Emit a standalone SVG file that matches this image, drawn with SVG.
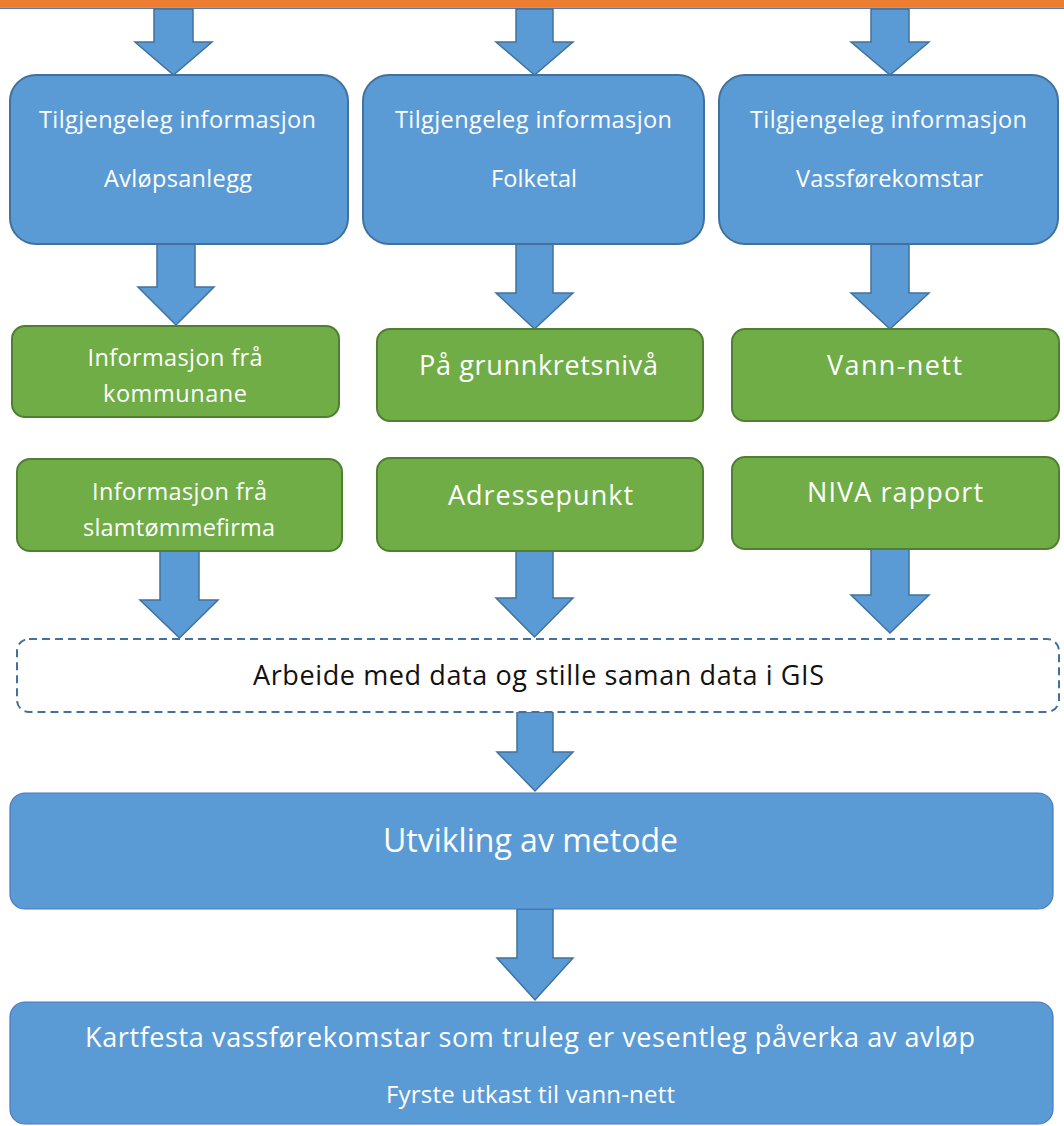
<svg xmlns="http://www.w3.org/2000/svg" width="1064" height="1126" viewBox="0 0 1064 1126">
  <style>
    .blue { fill: #5b9bd5; stroke: #41719c; stroke-width: 2; }
    .bigblue { fill: #5b9bd5; stroke: #4a78c0; stroke-width: 1.2; }
    .green { fill: #70ad47; stroke: #507e32; stroke-width: 2; }
    .dash { fill: #ffffff; stroke: #41719c; stroke-width: 2; stroke-dasharray: 8 5; }
    .arrow { fill: #5b9bd5; stroke: #41719c; stroke-width: 1.5; stroke-linejoin: miter; }
    text { font-family: "Open Sans", "Liberation Sans", sans-serif; text-anchor: middle; }
    .w { fill: #ffffff; }
    .k { fill: #111111; }
    .t1 { font-size: 24px; }
    .t2 { font-size: 23.5px; }
    .t3 { font-size: 27px; }
  </style>
  <rect x="0" y="0" width="1064" height="1126" fill="#ffffff"/>
  <g id="top-bar">
    <rect x="0" y="0" width="1064" height="7.5" fill="#ed7d31"/>
    <line x1="0" y1="8.2" x2="1064" y2="8.2" stroke="#5a7ea6" stroke-width="1.5"/>
  </g>

  <g id="connectors">
    <path class="arrow" d="M154,9 H193 V42 H212 L173.5,75 L135,42 H154 Z"/>
    <path class="arrow" d="M516,9 H553 V42 H573 L534.5,75 L496,42 H516 Z"/>
    <path class="arrow" d="M871,9 H909 V42 H929 L890,75 L851,42 H871 Z"/>

    <path class="arrow" d="M157,244 H195 V287 H214 L176,325 L138,287 H157 Z"/>
    <path class="arrow" d="M516,244 H553 V293 H573 L534.5,329 L496,293 H516 Z"/>
    <path class="arrow" d="M871,244 H909 V293 H929 L890,329 L851,293 H871 Z"/>

    <path class="arrow" d="M160,551 H199 V600 H218 L179.5,638 L140,600 H160 Z"/>
    <path class="arrow" d="M516,550 H553 V598 H573 L534.5,637 L496,598 H516 Z"/>
    <path class="arrow" d="M871,549 H909 V595 H929 L890,633 L851,595 H871 Z"/>

    <path class="arrow" d="M517,712 H553 V752 H573 L535,791 L497,752 H517 Z"/>
    <path class="arrow" d="M517,909 H553 V958 H573 L535,1000 L497,958 H517 Z"/>
  </g>

  <g id="node-avlop">
    <rect class="blue" x="10" y="75" width="338" height="169" rx="26" ry="26"/>
    <text class="w t2" x="177.5" y="128" textLength="277">Tilgjengeleg informasjon</text>
    <text class="w t2" x="178" y="187" textLength="148">Avløpsanlegg</text>
  </g>
  <g id="node-folketal">
    <rect class="blue" x="363" y="75" width="341" height="169" rx="26" ry="26"/>
    <text class="w t2" x="533.5" y="128" textLength="277">Tilgjengeleg informasjon</text>
    <text class="w t2" x="534" y="187" textLength="86">Folketal</text>
  </g>
  <g id="node-vass">
    <rect class="blue" x="719" y="75" width="339" height="169" rx="26" ry="26"/>
    <text class="w t2" x="888.5" y="128" textLength="277">Tilgjengeleg informasjon</text>
    <text class="w t2" x="889.5" y="187" textLength="187">Vassførekomstar</text>
  </g>

  <g id="node-kommunane">
    <rect class="green" x="12" y="326" width="327" height="91" rx="13" ry="13"/>
    <text class="w t2" x="175" y="366" textLength="175">Informasjon frå</text>
    <text class="w t2" x="175" y="402" textLength="144">kommunane</text>
  </g>
  <g id="node-grunnkrets">
    <rect class="green" x="377" y="329" width="326" height="92" rx="13" ry="13"/>
    <text class="w t3" x="538.5" y="375" textLength="239">På grunnkretsnivå</text>
  </g>
  <g id="node-vannnett">
    <rect class="green" x="732" y="329" width="327" height="92" rx="13" ry="13"/>
    <text class="w t3" x="894.5" y="375" textLength="135">Vann-nett</text>
  </g>

  <g id="node-slam">
    <rect class="green" x="17" y="459" width="325" height="92" rx="13" ry="13"/>
    <text class="w t2" x="179.5" y="500" textLength="175">Informasjon frå</text>
    <text class="w t2" x="179" y="536" textLength="192">slamtømmefirma</text>
  </g>
  <g id="node-adresse">
    <rect class="green" x="377" y="458" width="326" height="93" rx="13" ry="13"/>
    <text class="w t3" x="540.5" y="505" textLength="185">Adressepunkt</text>
  </g>
  <g id="node-niva">
    <rect class="green" x="732" y="457" width="327" height="92" rx="13" ry="13"/>
    <text class="w t3" x="895" y="502" textLength="176">NIVA rapport</text>
  </g>

  <g id="node-gis">
    <rect class="dash" x="17" y="639" width="1042" height="73" rx="12" ry="12"/>
    <text class="k t3" x="538.5" y="685" textLength="571">Arbeide med data og stille saman data i GIS</text>
  </g>

  <g id="node-metode">
    <rect class="bigblue" x="10" y="793" width="1043" height="116" rx="15" ry="15"/>
    <text class="w" style="font-size:32px" x="530.5" y="852" textLength="295">Utvikling av metode</text>
  </g>

  <g id="node-kartfesta">
    <rect class="bigblue" x="10" y="1002" width="1043" height="122" rx="15" ry="15"/>
    <text class="w t3" x="530" y="1047" textLength="890">Kartfesta vassførekomstar som truleg er vesentleg påverka av avløp</text>
    <text class="w t1" x="530.5" y="1103" textLength="289">Fyrste utkast til vann-nett</text>
  </g>
</svg>
